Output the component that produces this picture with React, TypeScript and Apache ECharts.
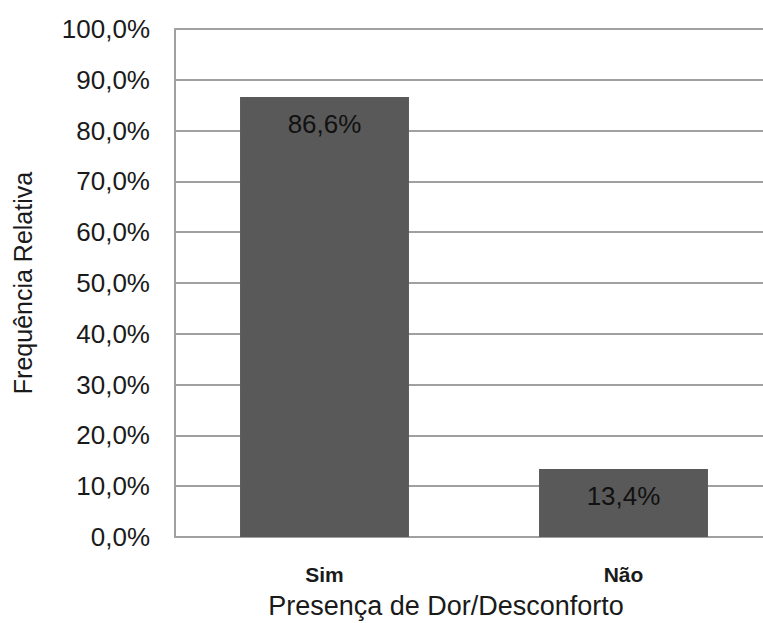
import React, { useEffect, useRef } from "react";
import * as echarts from "echarts";

const categories = ["Sim", "Não"];
const frequencies = [86.6, 13.4];
const yTicks = { min: 0, max: 100, interval: 10 };
const xTitle = "Presença de Dor/Desconforto";
const yTitle = "Frequência Relativa";

const FONT = '"Liberation Sans", Arial, sans-serif';
const pct = (v: number) => v.toFixed(1).replace(".", ",") + "%";

export default function App() {
  const ref = useRef<HTMLDivElement>(null);

  useEffect(() => {
    if (!ref.current) return;
    const chart = echarts.init(ref.current, undefined, { renderer: "svg" });
    chart.setOption({
      animation: false,
      backgroundColor: "#ffffff",
      // plot area runs a little past the visible right edge
      grid: { left: 175, top: 29, bottom: 86, right: 0, containLabel: false },
      xAxis: {
        type: "category",
        data: categories,
        axisLine: { show: true, lineStyle: { color: "#a0a0a0", width: 2 } },
        axisTick: { show: false },
        axisLabel: {
          color: "#1a1a1a",
          fontFamily: FONT,
          fontSize: 21,
          fontWeight: "bold",
          margin: 27,
        },
      },
      yAxis: {
        type: "value",
        min: yTicks.min,
        max: yTicks.max,
        interval: yTicks.interval,
        name: yTitle,
        nameLocation: "middle",
        nameGap: 140,
        nameTextStyle: { color: "#1a1a1a", fontFamily: FONT, fontSize: 25 },
        axisLine: { show: true, lineStyle: { color: "#a0a0a0", width: 2 } },
        axisTick: { show: false },
        axisLabel: {
          color: "#1a1a1a",
          fontFamily: FONT,
          fontSize: 26,
          margin: 25,
          formatter: (v: number) => pct(v),
        },
        splitLine: { show: true, lineStyle: { color: "#a0a0a0", width: 2 } },
      },
      graphic: [
        {
          type: "text",
          x: 446,
          y: 606,
          style: {
            text: xTitle,
            fill: "#1a1a1a",
            font: `27px ${FONT}`,
            align: "center",
            verticalAlign: "middle",
          },
        },
      ],
      series: [
        {
          type: "bar",
          data: frequencies,
          barCategoryGap: "43.5%",
          itemStyle: { color: "#595959" },
          label: {
            show: true,
            position: "insideTop",
            distance: 14,
            color: "#111111",
            fontFamily: FONT,
            fontSize: 26,
            formatter: (p: any) => pct(p.value),
          },
        },
      ],
    });
    return () => chart.dispose();
  }, []);

  return (
    <div
      style={{
        position: "fixed",
        left: 0,
        top: 0,
        width: 763,
        height: 623,
        overflow: "hidden",
        background: "#ffffff",
      }}
    >
      <div ref={ref} style={{ width: 773, height: 623 }} />
    </div>
  );
}
